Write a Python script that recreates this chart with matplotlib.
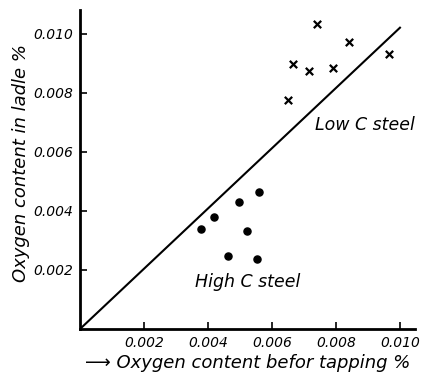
import matplotlib
matplotlib.use("Agg")
import matplotlib.pyplot as plt

# low C steel (crosses)
low_x = [0.00740, 0.00840, 0.00966, 0.00667, 0.00716, 0.00792, 0.00649]
low_y = [0.01034, 0.00970, 0.00930, 0.00898, 0.00872, 0.00884, 0.00774]

# high C steel (dots)
high_x = [0.00378, 0.00420, 0.00498, 0.00560, 0.00523, 0.00464, 0.00554]
high_y = [0.00338, 0.00380, 0.00430, 0.00464, 0.00333, 0.00248, 0.00237]

# equality line
line_x = [0.0, 0.0100]
line_y = [0.0, 0.0102]

ticks = [0.002, 0.004, 0.006, 0.008, 0.010]
tick_labels = ["0.002", "0.004", "0.006", "0.008", "0.010"]

fig = plt.figure(figsize=(4.27, 3.85), dpi=100)
ax = fig.add_axes([0.1874, 0.1455, 0.7845, 0.8286])

ax.plot(line_x, line_y, color="black", lw=1.5)
ax.scatter(low_x, low_y, marker="x", s=28, color="black", linewidths=1.6)
ax.scatter(high_x, high_y, marker="o", s=26, color="black")

ax.text(0.00734, 0.0069, "Low C steel", fontsize=12.5, style="italic", va="center")
ax.text(0.00359, 0.00159, "High C steel", fontsize=12.5, style="italic", va="center")

ax.set_xlim(0, 0.01047)
ax.set_ylim(0, 0.0108)
ax.set_xticks(ticks)
ax.set_xticklabels(tick_labels, style="italic", fontsize=10)
ax.set_yticks(ticks)
ax.set_yticklabels(tick_labels, style="italic", fontsize=10)
ax.tick_params(direction="in", length=5, width=1.2, pad=5)

for side in ["top", "right"]:
    ax.spines[side].set_visible(False)
for side in ["left", "bottom"]:
    ax.spines[side].set_linewidth(2)

ax.set_ylabel("Oxygen content in ladle %", fontsize=13, style="italic")
ax.yaxis.set_label_coords(-0.15, 0.52)
ax.set_xlabel("\u27f6 Oxygen content befor tapping %", fontsize=13, style="italic", labelpad=3)

fig.savefig("out.png", dpi=100)
